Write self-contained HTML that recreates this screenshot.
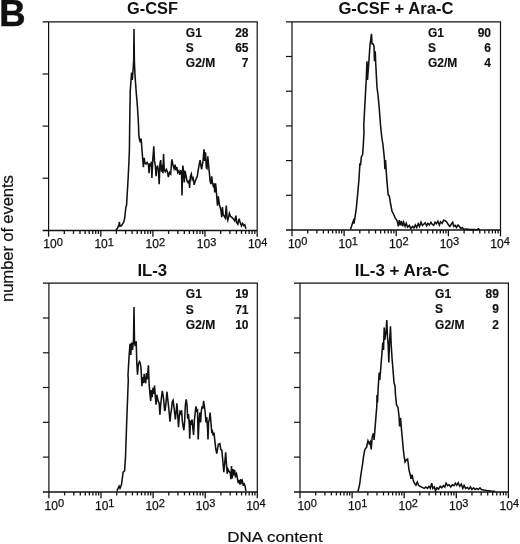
<!DOCTYPE html>
<html><head><meta charset="utf-8"><title>Figure B</title>
<style>
html,body{margin:0;padding:0;background:#fff;}
body{width:520px;height:544px;overflow:hidden;}
svg{display:block;}
text{font-family:"Liberation Sans",Arial,Helvetica,sans-serif;fill:#111;}
.tt{font-size:16px;font-weight:bold;}
.lg{font-size:12px;font-weight:bold;stroke:#111;stroke-width:0.15px;}
.tk{font-size:12px;stroke:#111;stroke-width:0.25px;}
.ax{font-size:16px;stroke:#111;stroke-width:0.2px;}
</style></head><body>
<svg width="520" height="544" viewBox="0 0 520 544">
<rect width="520" height="544" fill="#fff"/>
<text x="-0.7" y="26.3" font-size="36.5" font-weight="bold" class="b" stroke="#111" stroke-width="0.5">B</text>
<text x="127" y="14" class="tt" style="font-size:15.6px" textLength="51" lengthAdjust="spacingAndGlyphs">G-CSF</text>
<text x="338.4" y="14.1" class="tt" style="font-size:15.8px" textLength="115" lengthAdjust="spacingAndGlyphs">G-CSF + Ara-C</text>
<text x="137.4" y="276.3" class="tt" textLength="29.8" lengthAdjust="spacingAndGlyphs">IL-3</text>
<text x="354.7" y="276.3" class="tt" textLength="94.9" lengthAdjust="spacingAndGlyphs">IL-3 + Ara-C</text>
<text transform="translate(13.2,301.9) rotate(-90)" class="ax" style="font-size:16.8px" textLength="126.7" lengthAdjust="spacing">number of events</text>
<text x="227.3" y="542" class="ax" style="font-size:15px" textLength="95.3" lengthAdjust="spacingAndGlyphs">DNA content</text>
<path d="M42.6 21.8 H257.2 V230.4 M48.6 21.8 V230.4" fill="none" stroke="#111" stroke-width="1.2"/>
<path d="M42.6 230.4 H257.2" stroke="#111" stroke-width="1.45"/>
<path d="M42.6 74.0 H48.6" stroke="#111" stroke-width="1.2"/>
<path d="M42.6 126.1 H48.6" stroke="#111" stroke-width="1.2"/>
<path d="M42.6 178.2 H48.6" stroke="#111" stroke-width="1.2"/>
<path d="M48.6 230.4 V236.7" stroke="#111" stroke-width="1.3"/>
<path d="M64.3 230.4 V233.9" stroke="#111" stroke-width="1.3"/>
<path d="M73.5 230.4 V233.9" stroke="#111" stroke-width="1.3"/>
<path d="M80.0 230.4 V233.9" stroke="#111" stroke-width="1.3"/>
<path d="M85.1 230.4 V233.9" stroke="#111" stroke-width="1.3"/>
<path d="M89.2 230.4 V233.9" stroke="#111" stroke-width="1.3"/>
<path d="M92.7 230.4 V233.9" stroke="#111" stroke-width="1.3"/>
<path d="M95.7 230.4 V233.9" stroke="#111" stroke-width="1.3"/>
<path d="M98.4 230.4 V233.9" stroke="#111" stroke-width="1.3"/>
<text x="43.3" y="248.2" class="tk">10<tspan dy="-2.7" font-size="11">0</tspan></text>
<path d="M100.8 230.4 V236.7" stroke="#111" stroke-width="1.3"/>
<path d="M116.4 230.4 V233.9" stroke="#111" stroke-width="1.3"/>
<path d="M125.6 230.4 V233.9" stroke="#111" stroke-width="1.3"/>
<path d="M132.1 230.4 V233.9" stroke="#111" stroke-width="1.3"/>
<path d="M137.2 230.4 V233.9" stroke="#111" stroke-width="1.3"/>
<path d="M141.3 230.4 V233.9" stroke="#111" stroke-width="1.3"/>
<path d="M144.8 230.4 V233.9" stroke="#111" stroke-width="1.3"/>
<path d="M147.8 230.4 V233.9" stroke="#111" stroke-width="1.3"/>
<path d="M150.5 230.4 V233.9" stroke="#111" stroke-width="1.3"/>
<text x="94.4" y="248.2" class="tk">10<tspan dy="-2.7" font-size="11">1</tspan></text>
<path d="M152.9 230.4 V236.7" stroke="#111" stroke-width="1.3"/>
<path d="M168.6 230.4 V233.9" stroke="#111" stroke-width="1.3"/>
<path d="M177.8 230.4 V233.9" stroke="#111" stroke-width="1.3"/>
<path d="M184.3 230.4 V233.9" stroke="#111" stroke-width="1.3"/>
<path d="M189.4 230.4 V233.9" stroke="#111" stroke-width="1.3"/>
<path d="M193.5 230.4 V233.9" stroke="#111" stroke-width="1.3"/>
<path d="M197.0 230.4 V233.9" stroke="#111" stroke-width="1.3"/>
<path d="M200.0 230.4 V233.9" stroke="#111" stroke-width="1.3"/>
<path d="M202.7 230.4 V233.9" stroke="#111" stroke-width="1.3"/>
<text x="145.6" y="248.2" class="tk">10<tspan dy="-2.7" font-size="11">2</tspan></text>
<path d="M205.0 230.4 V236.7" stroke="#111" stroke-width="1.3"/>
<path d="M220.7 230.4 V233.9" stroke="#111" stroke-width="1.3"/>
<path d="M229.9 230.4 V233.9" stroke="#111" stroke-width="1.3"/>
<path d="M236.4 230.4 V233.9" stroke="#111" stroke-width="1.3"/>
<path d="M241.5 230.4 V233.9" stroke="#111" stroke-width="1.3"/>
<path d="M245.6 230.4 V233.9" stroke="#111" stroke-width="1.3"/>
<path d="M249.1 230.4 V233.9" stroke="#111" stroke-width="1.3"/>
<path d="M252.1 230.4 V233.9" stroke="#111" stroke-width="1.3"/>
<path d="M254.8 230.4 V233.9" stroke="#111" stroke-width="1.3"/>
<text x="196.8" y="248.2" class="tk">10<tspan dy="-2.7" font-size="11">3</tspan></text>
<path d="M257.2 230.4 V236.7" stroke="#111" stroke-width="1.3"/>
<text x="247.9" y="248.2" class="tk">10<tspan dy="-2.7" font-size="11">4</tspan></text>
<path d="M286.0 21.8 H500.5 V230.0 M292.0 21.8 V230.0" fill="none" stroke="#111" stroke-width="1.2"/>
<path d="M286.0 230.0 H500.5" stroke="#111" stroke-width="1.45"/>
<path d="M286.0 56.5 H292.0" stroke="#111" stroke-width="1.2"/>
<path d="M286.0 91.2 H292.0" stroke="#111" stroke-width="1.2"/>
<path d="M286.0 125.9 H292.0" stroke="#111" stroke-width="1.2"/>
<path d="M286.0 160.6 H292.0" stroke="#111" stroke-width="1.2"/>
<path d="M286.0 195.3 H292.0" stroke="#111" stroke-width="1.2"/>
<path d="M292.0 230.0 V236.3" stroke="#111" stroke-width="1.3"/>
<path d="M307.7 230.0 V233.5" stroke="#111" stroke-width="1.3"/>
<path d="M316.9 230.0 V233.5" stroke="#111" stroke-width="1.3"/>
<path d="M323.4 230.0 V233.5" stroke="#111" stroke-width="1.3"/>
<path d="M328.4 230.0 V233.5" stroke="#111" stroke-width="1.3"/>
<path d="M332.6 230.0 V233.5" stroke="#111" stroke-width="1.3"/>
<path d="M336.1 230.0 V233.5" stroke="#111" stroke-width="1.3"/>
<path d="M339.1 230.0 V233.5" stroke="#111" stroke-width="1.3"/>
<path d="M341.7 230.0 V233.5" stroke="#111" stroke-width="1.3"/>
<text x="287.9" y="247.9" class="tk">10<tspan dy="-2.7" font-size="11">0</tspan></text>
<path d="M344.1 230.0 V236.3" stroke="#111" stroke-width="1.3"/>
<path d="M359.8 230.0 V233.5" stroke="#111" stroke-width="1.3"/>
<path d="M369.0 230.0 V233.5" stroke="#111" stroke-width="1.3"/>
<path d="M375.5 230.0 V233.5" stroke="#111" stroke-width="1.3"/>
<path d="M380.6 230.0 V233.5" stroke="#111" stroke-width="1.3"/>
<path d="M384.7 230.0 V233.5" stroke="#111" stroke-width="1.3"/>
<path d="M388.2 230.0 V233.5" stroke="#111" stroke-width="1.3"/>
<path d="M391.2 230.0 V233.5" stroke="#111" stroke-width="1.3"/>
<path d="M393.9 230.0 V233.5" stroke="#111" stroke-width="1.3"/>
<text x="338.5" y="247.9" class="tk">10<tspan dy="-2.7" font-size="11">1</tspan></text>
<path d="M396.2 230.0 V236.3" stroke="#111" stroke-width="1.3"/>
<path d="M411.9 230.0 V233.5" stroke="#111" stroke-width="1.3"/>
<path d="M421.1 230.0 V233.5" stroke="#111" stroke-width="1.3"/>
<path d="M427.6 230.0 V233.5" stroke="#111" stroke-width="1.3"/>
<path d="M432.7 230.0 V233.5" stroke="#111" stroke-width="1.3"/>
<path d="M436.8 230.0 V233.5" stroke="#111" stroke-width="1.3"/>
<path d="M440.3 230.0 V233.5" stroke="#111" stroke-width="1.3"/>
<path d="M443.3 230.0 V233.5" stroke="#111" stroke-width="1.3"/>
<path d="M446.0 230.0 V233.5" stroke="#111" stroke-width="1.3"/>
<text x="389.1" y="247.9" class="tk">10<tspan dy="-2.7" font-size="11">2</tspan></text>
<path d="M448.4 230.0 V236.3" stroke="#111" stroke-width="1.3"/>
<path d="M464.1 230.0 V233.5" stroke="#111" stroke-width="1.3"/>
<path d="M473.2 230.0 V233.5" stroke="#111" stroke-width="1.3"/>
<path d="M479.8 230.0 V233.5" stroke="#111" stroke-width="1.3"/>
<path d="M484.8 230.0 V233.5" stroke="#111" stroke-width="1.3"/>
<path d="M488.9 230.0 V233.5" stroke="#111" stroke-width="1.3"/>
<path d="M492.4 230.0 V233.5" stroke="#111" stroke-width="1.3"/>
<path d="M495.4 230.0 V233.5" stroke="#111" stroke-width="1.3"/>
<path d="M498.1 230.0 V233.5" stroke="#111" stroke-width="1.3"/>
<text x="439.7" y="247.9" class="tk">10<tspan dy="-2.7" font-size="11">3</tspan></text>
<path d="M500.5 230.0 V236.3" stroke="#111" stroke-width="1.3"/>
<text x="490.3" y="247.9" class="tk">10<tspan dy="-2.7" font-size="11">4</tspan></text>
<path d="M42.9 283.2 H257.3 V491.9 M48.9 283.2 V491.9" fill="none" stroke="#111" stroke-width="1.2"/>
<path d="M42.9 491.9 H257.3" stroke="#111" stroke-width="1.45"/>
<path d="M42.9 318.0 H48.9" stroke="#111" stroke-width="1.2"/>
<path d="M42.9 352.8 H48.9" stroke="#111" stroke-width="1.2"/>
<path d="M42.9 387.5 H48.9" stroke="#111" stroke-width="1.2"/>
<path d="M42.9 422.3 H48.9" stroke="#111" stroke-width="1.2"/>
<path d="M42.9 457.1 H48.9" stroke="#111" stroke-width="1.2"/>
<path d="M48.9 491.9 V498.2" stroke="#111" stroke-width="1.3"/>
<path d="M64.6 491.9 V495.4" stroke="#111" stroke-width="1.3"/>
<path d="M73.8 491.9 V495.4" stroke="#111" stroke-width="1.3"/>
<path d="M80.3 491.9 V495.4" stroke="#111" stroke-width="1.3"/>
<path d="M85.3 491.9 V495.4" stroke="#111" stroke-width="1.3"/>
<path d="M89.4 491.9 V495.4" stroke="#111" stroke-width="1.3"/>
<path d="M92.9 491.9 V495.4" stroke="#111" stroke-width="1.3"/>
<path d="M96.0 491.9 V495.4" stroke="#111" stroke-width="1.3"/>
<path d="M98.6 491.9 V495.4" stroke="#111" stroke-width="1.3"/>
<text x="44.6" y="510.1" class="tk">10<tspan dy="-2.7" font-size="11">0</tspan></text>
<path d="M101.0 491.9 V498.2" stroke="#111" stroke-width="1.3"/>
<path d="M116.7 491.9 V495.4" stroke="#111" stroke-width="1.3"/>
<path d="M125.9 491.9 V495.4" stroke="#111" stroke-width="1.3"/>
<path d="M132.4 491.9 V495.4" stroke="#111" stroke-width="1.3"/>
<path d="M137.4 491.9 V495.4" stroke="#111" stroke-width="1.3"/>
<path d="M141.5 491.9 V495.4" stroke="#111" stroke-width="1.3"/>
<path d="M145.0 491.9 V495.4" stroke="#111" stroke-width="1.3"/>
<path d="M148.1 491.9 V495.4" stroke="#111" stroke-width="1.3"/>
<path d="M150.7 491.9 V495.4" stroke="#111" stroke-width="1.3"/>
<text x="95.0" y="510.1" class="tk">10<tspan dy="-2.7" font-size="11">1</tspan></text>
<path d="M153.1 491.9 V498.2" stroke="#111" stroke-width="1.3"/>
<path d="M168.8 491.9 V495.4" stroke="#111" stroke-width="1.3"/>
<path d="M178.0 491.9 V495.4" stroke="#111" stroke-width="1.3"/>
<path d="M184.5 491.9 V495.4" stroke="#111" stroke-width="1.3"/>
<path d="M189.5 491.9 V495.4" stroke="#111" stroke-width="1.3"/>
<path d="M193.6 491.9 V495.4" stroke="#111" stroke-width="1.3"/>
<path d="M197.1 491.9 V495.4" stroke="#111" stroke-width="1.3"/>
<path d="M200.2 491.9 V495.4" stroke="#111" stroke-width="1.3"/>
<path d="M202.8 491.9 V495.4" stroke="#111" stroke-width="1.3"/>
<text x="145.4" y="510.1" class="tk">10<tspan dy="-2.7" font-size="11">2</tspan></text>
<path d="M205.2 491.9 V498.2" stroke="#111" stroke-width="1.3"/>
<path d="M220.9 491.9 V495.4" stroke="#111" stroke-width="1.3"/>
<path d="M230.1 491.9 V495.4" stroke="#111" stroke-width="1.3"/>
<path d="M236.6 491.9 V495.4" stroke="#111" stroke-width="1.3"/>
<path d="M241.6 491.9 V495.4" stroke="#111" stroke-width="1.3"/>
<path d="M245.7 491.9 V495.4" stroke="#111" stroke-width="1.3"/>
<path d="M249.2 491.9 V495.4" stroke="#111" stroke-width="1.3"/>
<path d="M252.3 491.9 V495.4" stroke="#111" stroke-width="1.3"/>
<path d="M254.9 491.9 V495.4" stroke="#111" stroke-width="1.3"/>
<text x="195.8" y="510.1" class="tk">10<tspan dy="-2.7" font-size="11">3</tspan></text>
<path d="M257.3 491.9 V498.2" stroke="#111" stroke-width="1.3"/>
<text x="246.2" y="510.1" class="tk">10<tspan dy="-2.7" font-size="11">4</tspan></text>
<path d="M294.0 283.2 H508.4 V491.9 M300.0 283.2 V491.9" fill="none" stroke="#111" stroke-width="1.2"/>
<path d="M294.0 491.9 H508.4" stroke="#111" stroke-width="1.45"/>
<path d="M294.0 318.0 H300.0" stroke="#111" stroke-width="1.2"/>
<path d="M294.0 352.8 H300.0" stroke="#111" stroke-width="1.2"/>
<path d="M294.0 387.5 H300.0" stroke="#111" stroke-width="1.2"/>
<path d="M294.0 422.3 H300.0" stroke="#111" stroke-width="1.2"/>
<path d="M294.0 457.1 H300.0" stroke="#111" stroke-width="1.2"/>
<path d="M300.0 491.9 V498.2" stroke="#111" stroke-width="1.3"/>
<path d="M315.7 491.9 V495.4" stroke="#111" stroke-width="1.3"/>
<path d="M324.9 491.9 V495.4" stroke="#111" stroke-width="1.3"/>
<path d="M331.4 491.9 V495.4" stroke="#111" stroke-width="1.3"/>
<path d="M336.4 491.9 V495.4" stroke="#111" stroke-width="1.3"/>
<path d="M340.5 491.9 V495.4" stroke="#111" stroke-width="1.3"/>
<path d="M344.0 491.9 V495.4" stroke="#111" stroke-width="1.3"/>
<path d="M347.1 491.9 V495.4" stroke="#111" stroke-width="1.3"/>
<path d="M349.7 491.9 V495.4" stroke="#111" stroke-width="1.3"/>
<text x="297.4" y="510.1" class="tk">10<tspan dy="-2.7" font-size="11">0</tspan></text>
<path d="M352.1 491.9 V498.2" stroke="#111" stroke-width="1.3"/>
<path d="M367.8 491.9 V495.4" stroke="#111" stroke-width="1.3"/>
<path d="M377.0 491.9 V495.4" stroke="#111" stroke-width="1.3"/>
<path d="M383.5 491.9 V495.4" stroke="#111" stroke-width="1.3"/>
<path d="M388.5 491.9 V495.4" stroke="#111" stroke-width="1.3"/>
<path d="M392.6 491.9 V495.4" stroke="#111" stroke-width="1.3"/>
<path d="M396.1 491.9 V495.4" stroke="#111" stroke-width="1.3"/>
<path d="M399.2 491.9 V495.4" stroke="#111" stroke-width="1.3"/>
<path d="M401.8 491.9 V495.4" stroke="#111" stroke-width="1.3"/>
<text x="347.9" y="510.1" class="tk">10<tspan dy="-2.7" font-size="11">1</tspan></text>
<path d="M404.2 491.9 V498.2" stroke="#111" stroke-width="1.3"/>
<path d="M419.9 491.9 V495.4" stroke="#111" stroke-width="1.3"/>
<path d="M429.1 491.9 V495.4" stroke="#111" stroke-width="1.3"/>
<path d="M435.6 491.9 V495.4" stroke="#111" stroke-width="1.3"/>
<path d="M440.6 491.9 V495.4" stroke="#111" stroke-width="1.3"/>
<path d="M444.7 491.9 V495.4" stroke="#111" stroke-width="1.3"/>
<path d="M448.2 491.9 V495.4" stroke="#111" stroke-width="1.3"/>
<path d="M451.3 491.9 V495.4" stroke="#111" stroke-width="1.3"/>
<path d="M453.9 491.9 V495.4" stroke="#111" stroke-width="1.3"/>
<text x="398.5" y="510.1" class="tk">10<tspan dy="-2.7" font-size="11">2</tspan></text>
<path d="M456.3 491.9 V498.2" stroke="#111" stroke-width="1.3"/>
<path d="M472.0 491.9 V495.4" stroke="#111" stroke-width="1.3"/>
<path d="M481.2 491.9 V495.4" stroke="#111" stroke-width="1.3"/>
<path d="M487.7 491.9 V495.4" stroke="#111" stroke-width="1.3"/>
<path d="M492.7 491.9 V495.4" stroke="#111" stroke-width="1.3"/>
<path d="M496.8 491.9 V495.4" stroke="#111" stroke-width="1.3"/>
<path d="M500.3 491.9 V495.4" stroke="#111" stroke-width="1.3"/>
<path d="M503.4 491.9 V495.4" stroke="#111" stroke-width="1.3"/>
<path d="M506.0 491.9 V495.4" stroke="#111" stroke-width="1.3"/>
<text x="449.0" y="510.1" class="tk">10<tspan dy="-2.7" font-size="11">3</tspan></text>
<path d="M508.4 491.9 V498.2" stroke="#111" stroke-width="1.3"/>
<text x="499.6" y="510.1" class="tk">10<tspan dy="-2.7" font-size="11">4</tspan></text>
<text x="185.8" y="37.0" class="lg">G1</text>
<text x="248.5" y="37.0" class="lg" text-anchor="end">28</text>
<text x="185.8" y="52.1" class="lg">S</text>
<text x="248.5" y="52.1" class="lg" text-anchor="end">65</text>
<text x="185.8" y="67.2" class="lg">G2/M</text>
<text x="248.5" y="67.2" class="lg" text-anchor="end">7</text>
<text x="428.0" y="37.0" class="lg">G1</text>
<text x="491.0" y="37.0" class="lg" text-anchor="end">90</text>
<text x="428.0" y="52.1" class="lg">S</text>
<text x="491.0" y="52.1" class="lg" text-anchor="end">6</text>
<text x="428.0" y="67.2" class="lg">G2/M</text>
<text x="491.0" y="67.2" class="lg" text-anchor="end">4</text>
<text x="185.8" y="298.2" class="lg">G1</text>
<text x="248.5" y="298.2" class="lg" text-anchor="end">19</text>
<text x="185.8" y="313.8" class="lg">S</text>
<text x="248.5" y="313.8" class="lg" text-anchor="end">71</text>
<text x="185.8" y="329.3" class="lg">G2/M</text>
<text x="248.5" y="329.3" class="lg" text-anchor="end">10</text>
<text x="435.1" y="297.9" class="lg">G1</text>
<text x="498.9" y="297.9" class="lg" text-anchor="end">89</text>
<text x="435.1" y="313.4" class="lg">S</text>
<text x="498.9" y="313.4" class="lg" text-anchor="end">9</text>
<text x="435.1" y="329.0" class="lg">G2/M</text>
<text x="498.9" y="329.0" class="lg" text-anchor="end">2</text>
<polyline points="115.9,230.5 117.5,228.1 118.8,225.0 119.4,221.9 120.0,226.2 121.4,225.8 122.5,224.2 123.8,221.9 124.7,218.0 125.3,212.5 125.9,207.0 126.6,205.0 127.0,196.9 127.7,185.9 128.3,175.0 128.9,162.5 129.4,150.0 129.7,125.0 130.2,92.0 131.0,80.0 131.6,72.5 132.3,80.0 133.0,71.0 133.7,60.0 134.0,29.1 134.4,62.0 135.0,75.0 136.2,92.0 137.5,107.5 138.5,125.0 138.8,134.6 139.4,139.3 140.3,142.4 141.1,138.5 141.9,148.5 142.6,157.8 143.4,167.1 144.2,157.8 145.0,163.2 146.0,164.0 147.1,162.4 148.4,164.7 149.1,173.2 149.9,163.2 150.7,166.3 151.4,161.7 151.9,177.9 152.7,160.9 153.8,146.2 154.5,160.9 155.3,165.5 156.1,176.3 156.8,167.1 157.6,166.3 158.4,170.2 159.2,184.1 159.9,164.0 160.7,160.1 161.5,171.7 162.3,164.7 163.0,173.2 163.5,153.9 164.3,170.2 165.3,171.7 166.4,169.4 167.4,171.7 168.4,177.1 169.5,172.5 170.7,174.0 171.8,159.3 173.1,165.5 174.1,168.6 175.1,164.7 175.8,170.2 176.9,167.1 177.7,172.5 178.8,170.9 179.7,174.8 180.8,170.2 181.6,174.0 182.0,195.6 182.8,165.5 183.6,170.9 184.3,182.5 185.1,170.9 185.9,174.8 187.0,181.0 188.0,182.5 189.0,181.0 189.6,187.9 190.4,176.3 191.3,174.0 192.2,179.4 193.1,177.9 194.2,184.8 195.2,181.0 196.2,178.6 197.3,176.3 198.2,170.2 199.3,164.0 200.1,160.1 200.9,165.5 201.6,169.4 202.4,164.7 203.2,159.3 204.0,149.3 204.7,160.9 205.5,152.4 206.3,167.8 207.0,168.6 207.8,156.3 208.6,165.5 209.4,173.2 210.1,181.0 210.9,184.1 211.7,176.3 212.4,182.5 213.2,185.6 214.0,183.3 214.8,192.5 215.5,183.3 216.0,187.1 216.6,194.8 217.5,205.6 218.3,196.3 219.3,204.1 220.1,207.1 220.9,210.2 221.7,217.2 222.4,207.1 223.2,214.9 224.3,216.4 225.2,218.0 226.3,205.6 227.1,218.0 227.8,220.3 229.4,213.3 230.5,216.4 231.7,217.2 233.2,218.7 234.8,221.0 235.9,215.6 236.8,222.6 237.9,224.1 239.1,218.7 240.2,222.6 241.4,225.7 242.5,223.4 243.7,225.7 244.8,224.9 245.9,228.8" fill="none" stroke="#111" stroke-width="1.55" stroke-linejoin="miter" stroke-linecap="butt"/>
<polyline points="350.5,229.6 352.4,223.6 353.4,220.7 354.0,223.6 354.9,217.9 356.3,208.3 357.6,194.9 359.1,177.7 359.9,163.4 360.5,165.3 361.4,156.7 362.6,154.8 363.3,145.2 364.0,132.0 363.8,125.0 365.0,102.5 366.2,80.0 367.0,61.2 367.5,80.0 368.8,62.5 370.0,45.0 371.5,33.8 372.0,43.8 373.0,43.8 374.0,46.2 374.5,61.2 375.2,51.2 375.8,65.0 377.0,87.5 378.0,95.0 379.2,107.5 380.5,125.0 381.8,137.5 383.0,145.0 384.4,158.6 384.9,169.1 385.5,160.0 386.8,179.6 388.2,194.9 389.3,195.9 390.7,204.5 392.0,211.2 393.5,214.0 395.1,217.9 396.6,220.0 397.3,221.2 398.3,226.4 399.4,220.1 400.4,225.4 401.5,221.2 402.6,226.4 403.6,222.2 405.1,226.4 406.2,223.3 407.6,227.1 409.3,225.4 410.8,228.6 412.5,226.4 414.0,227.9 415.3,225.0 416.7,227.5 418.2,223.7 419.5,226.4 421.0,222.2 422.4,225.4 423.7,224.3 425.2,222.8 426.7,225.8 427.9,223.3 429.4,225.0 430.9,222.2 432.2,224.3 433.7,225.4 435.1,222.2 436.4,223.7 437.9,221.2 439.4,225.0 440.6,221.8 442.1,223.3 443.6,220.1 445.3,220.7 446.8,222.2 448.5,225.0 449.9,226.4 451.2,224.3 452.7,222.2 453.8,226.4 455.2,225.4 456.5,227.5 458.0,225.0 459.5,226.4 460.7,228.6 462.2,227.5 463.7,229.2 466.4,229.0 469.6,229.6 473.9,229.6 477.0,229.8 478.5,228.8 479.8,229.8" fill="none" stroke="#111" stroke-width="1.55" stroke-linejoin="miter" stroke-linecap="butt"/>
<polyline points="116.9,490.8 119.1,486.2 120.0,488.3 121.5,484.6 123.1,472.3 124.6,470.8 125.5,456.9 127.1,410.8 128.3,380.0 128.0,375.0 129.0,357.5 130.0,343.8 130.8,355.0 131.5,342.5 132.5,350.0 133.5,340.0 134.0,307.0 134.5,342.5 135.2,346.2 136.2,341.2 136.8,363.1 137.5,374.7 138.3,364.6 139.4,361.5 140.3,363.1 141.1,369.3 141.9,386.3 142.6,377.0 143.4,383.2 144.2,373.9 145.0,381.6 145.7,383.2 146.5,373.1 147.3,379.3 148.4,365.4 149.1,383.2 149.9,393.2 150.7,400.9 151.4,390.1 152.2,397.1 153.0,387.8 153.8,394.0 154.5,385.5 155.3,396.3 156.1,404.8 156.8,394.7 157.6,398.6 158.4,401.7 159.2,403.2 159.9,414.8 160.7,404.8 161.5,397.1 162.3,390.9 163.0,394.7 163.8,400.9 164.6,411.0 165.3,409.4 166.1,401.7 166.9,391.7 167.7,398.6 168.4,404.8 169.2,412.5 170.0,421.8 170.7,414.1 171.5,409.4 172.3,401.7 173.1,400.2 173.8,405.6 174.6,412.5 175.4,419.5 176.2,411.0 176.9,403.2 177.7,414.1 178.5,427.2 179.2,417.1 180.0,411.7 180.8,413.3 181.6,410.2 182.3,421.0 183.1,426.4 183.9,430.3 184.6,421.8 185.4,404.8 186.2,399.4 187.0,404.8 187.7,418.7 188.5,414.1 189.3,424.9 189.7,438.8 190.4,421.8 191.3,423.3 192.1,419.5 192.8,428.0 193.6,434.9 194.4,420.2 195.2,412.5 195.9,406.3 196.7,411.0 197.5,410.2 198.2,439.5 199.0,421.8 199.8,412.5 200.6,422.5 201.3,411.0 202.1,406.3 202.9,408.6 203.6,400.9 204.4,406.3 205.2,412.5 206.0,422.5 206.7,417.1 207.5,427.2 208.0,439.5 208.6,421.8 209.4,419.5 210.1,412.5 210.9,421.8 211.7,431.8 212.4,431.0 213.2,435.7 214.0,432.6 214.8,440.3 215.8,449.1 216.8,453.7 217.6,448.3 218.4,444.4 219.9,443.7 220.7,449.1 221.9,450.6 223.0,463.0 223.8,472.2 224.6,464.5 225.7,452.2 226.4,463.0 227.2,473.8 228.0,469.1 229.2,471.5 230.3,473.0 230.9,479.2 231.5,466.1 232.3,478.4 233.1,469.1 233.8,475.3 234.6,469.9 235.4,476.1 236.5,473.8 237.4,478.4 238.2,483.0 238.9,480.0 240.0,484.6 240.8,479.2 241.6,482.3 242.3,480.7 243.1,484.6 244.2,483.8 245.1,486.1 245.9,491.1" fill="none" stroke="#111" stroke-width="1.55" stroke-linejoin="miter" stroke-linecap="butt"/>
<polyline points="358.0,491.5 358.8,488.0 359.5,485.0 360.1,481.0 360.7,476.0 361.7,469.5 362.6,463.8 363.6,456.1 364.6,450.4 365.5,448.5 366.5,447.5 368.0,440.8 369.3,443.7 370.3,441.8 371.2,449.4 372.2,437.0 373.5,433.2 374.1,439.9 375.1,427.4 376.0,416.0 376.8,406.4 377.0,395.0 377.5,402.5 378.2,387.5 379.2,372.5 379.8,380.0 380.8,367.5 381.8,355.0 382.8,342.5 383.5,350.0 384.2,327.5 384.8,340.0 385.5,335.0 386.0,332.5 386.8,320.0 387.5,337.5 388.2,345.0 388.8,362.5 389.5,342.5 390.5,326.2 391.2,345.0 392.0,357.5 393.0,370.0 394.0,382.5 395.0,386.2 395.5,395.0 396.5,405.0 398.0,407.4 399.0,416.0 399.6,426.5 400.5,417.9 401.3,427.4 402.2,437.0 403.2,448.5 404.1,456.1 405.1,461.9 406.2,460.0 407.6,459.0 408.3,464.0 408.9,469.4 410.2,474.7 411.0,478.9 412.1,474.7 413.1,480.0 414.4,483.2 415.9,485.3 417.3,482.1 418.6,485.3 420.1,486.3 422.2,487.4 424.3,488.4 425.8,487.0 427.5,488.4 429.0,486.3 430.3,488.4 431.7,483.2 432.8,488.4 434.3,487.0 435.5,490.6 437.0,487.8 438.5,489.1 440.2,486.3 441.7,487.8 443.4,485.7 444.8,487.0 446.1,483.2 447.6,485.7 449.1,484.8 450.8,487.0 452.3,484.8 453.9,485.7 455.4,483.2 456.7,485.3 458.2,482.7 459.7,486.3 461.3,484.2 462.8,488.4 464.1,485.3 465.6,488.4 467.3,487.4 468.8,489.1 470.4,487.0 471.9,489.5 473.6,487.8 475.1,489.5 476.6,488.4 478.3,489.5 480.0,487.8 481.4,489.5 483.6,490.1 486.7,490.6 491.0,491.0 495.2,491.2" fill="none" stroke="#111" stroke-width="1.55" stroke-linejoin="miter" stroke-linecap="butt"/>
</svg>
</body></html>
